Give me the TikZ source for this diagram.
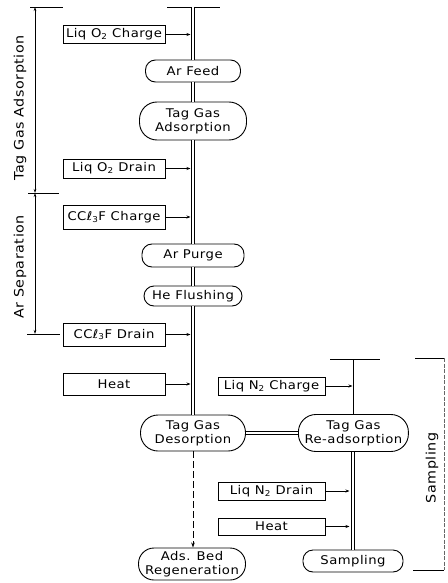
\documentclass[tikz,border=0pt]{standalone}
\usepackage{fontspec}
\setmainfont{DejaVu Sans}
\newfontfamily\lettering{DejaVu Sans}[FakeStretch=1.1, LetterSpace=4]
\usepackage{tikz}
\usetikzlibrary{arrows.meta,positioning}

\begin{document}
\begin{tikzpicture}[x=1pt, y=-1pt,
  box/.style={draw, line width=0.9pt, minimum width=102pt, minimum height=20pt,
    inner sep=1pt, font=\lettering\fontsize{12}{13.5}\selectfont},
  stage/.style={draw, rectangle, rounded corners=10pt, line width=0.9pt, minimum width=100pt,
    minimum height=22pt, inner sep=1pt, align=center, font=\lettering\fontsize{12}{14}\selectfont},
  tall/.style={rounded corners=17.5pt},
  pipe/.style={double, double distance=2.6pt, line width=0.9pt},
  feed/.style={-{Stealth[length=4pt,width=3pt]}, line width=0.8pt},
  dimarr/.style={{Stealth[length=4pt,width=2.5pt]}-{Stealth[length=4pt,width=2.5pt]}, line width=0.8pt},
  side/.style={rotate=90, font=\lettering\fontsize{13}{15}\selectfont}]
\useasboundingbox (0,0) rectangle (447,583);
% main column
\coordinate (mtop) at (193,7);
\coordinate (mleft) at (190.5,7);
\node[stage, minimum width=95pt] (arfeed) at (193,71) {Ar Feed};
\node[stage, tall, minimum width=107pt, minimum height=38pt] (adsorb) at (193,121) {Tag Gas\\Adsorption};
\node[stage, minimum width=102pt, minimum height=23pt] (arpurge) at (193,255.5) {Ar Purge};
\node[stage, minimum width=98pt, minimum height=20pt] (heflush) at (193,296) {He Flushing};
\node[stage, tall, minimum width=105pt, minimum height=36pt] (desorb) at (193,433) {Tag Gas\\Desorption};
\node[stage, rounded corners=15.5pt, minimum width=107pt, minimum height=32pt] (regen) at (192,564) {Ads. Bed\\Regeneration};
% charges and drains
\node[box, minimum height=18pt] (o2charge) at (114,34.5) {Liq O\textsubscript{2} Charge};
\node[box, minimum height=19pt] (o2drain) at (114,168.5) {Liq O\textsubscript{2} Drain};
\node[box, minimum height=24pt] (cclcharge) at (114,217) {CCℓ\textsubscript{3}F Charge};
\node[box, minimum height=23pt] (ccldrain) at (114,334.5) {CCℓ\textsubscript{3}F Drain};
\node[box, minimum height=22pt] (heatA) at (114,384) {Heat};
% sampling column
\node[stage, tall, minimum width=110pt, minimum height=37pt, right=52pt of desorb] (readsorb) {Tag Gas\\Re-adsorption};
\node[stage, minimum width=100pt] (sampling) at (353,561) {Sampling};
\coordinate (rtop) at (353,359);
\coordinate (rleft) at (349.5,359);
\node[box, minimum width=107pt, minimum height=18pt] (n2charge) at (271.5,386) {Liq N\textsubscript{2} Charge};
\node[box, minimum width=107pt, minimum height=18pt] (n2drain) at (271.5,491) {Liq N\textsubscript{2} Drain};
\node[box, minimum width=107pt, minimum height=17pt] (heatB) at (271.5,526.5) {Heat};
% lines
\draw[line width=0.9pt] (167,7) -- (220,7);
\draw[pipe] (mtop) -- (arfeed.north -| mtop);
\draw[pipe] (arfeed.south -| mtop) -- (adsorb.north -| mtop);
\draw[pipe] (adsorb.south -| mtop) -- (arpurge.north -| mtop);
\draw[pipe] (arpurge.south -| mtop) -- (heflush.north -| mtop);
\draw[pipe] (heflush.south -| mtop) -- (desorb.north -| mtop);
\draw[pipe] (desorb) -- (readsorb);
\draw[pipe] (readsorb.south -| rtop) -- (sampling.north -| rtop);
\draw[line width=0.9pt] (330,359) -- (380,359);
\draw[line width=0.9pt] (rtop) -- (readsorb.north -| rtop);
\draw[-{Stealth[length=5pt,width=3.5pt]}, line width=0.9pt, dash pattern=on 7pt off 3pt]
  (desorb.south -| mtop) -- (regen.north -| mtop);
\foreach \b in {o2charge,o2drain,cclcharge,ccldrain,heatA}
  \draw[feed] (\b) -- (\b -| mleft);
\draw[feed] (n2charge) -- ([xshift=-0.5pt]n2charge -| rtop);
\foreach \b in {n2drain,heatB}
  \draw[feed] (\b) -- (\b -| rleft);
% brackets
\coordinate (adsT) at (35,7);
\coordinate (adsB) at (35,193);
\coordinate (sepB) at (35,334);
\draw[line width=0.9pt] (30,7) -- (63,7);
\draw[line width=0.9pt] (28,193) -- (59,193);
\draw[line width=0.9pt] (27,334) -- (60,334);
\draw[dimarr] (adsT) -- (adsB);
\draw[dimarr] (adsB) -- (sepB);
\node[side] (adslbl) at (20,108) {Tag Gas Adsorption};
\node[side] (seplbl) at (20,267) {Ar Separation};
\coordinate (sampT) at (444,358);
\coordinate (sampB) at (444,570);
\draw[line width=0.8pt] (415,358) -- (sampT);
\draw[line width=0.8pt] (413,570) -- (sampB);
\draw[line width=0.5pt, black!60, dash pattern=on 4pt off 1.5pt] (sampT) -- (sampB);
\node[side] (samplbl) at (432,468) {Sampling};
\end{tikzpicture}
\end{document}
